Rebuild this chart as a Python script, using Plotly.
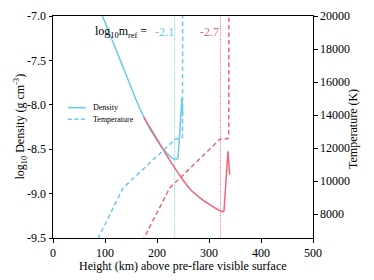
import plotly.graph_objects as go

# ---- data ----
blue_dens_h = [92, 95, 108, 120.6, 134, 147.5, 161, 174.4, 187, 199.4, 207, 214.8, 223, 230.8, 240.4]
blue_dens_v = [-6.965, -7.0, -7.185, -7.371, -7.565, -7.764, -7.96, -8.135, -8.28, -8.393, -8.46, -8.517, -8.568, -8.607, -8.607]
blue_spike_h = [240.4, 248.0, 249.5]
blue_spike_v = [-8.607, -7.925, -8.10]

red_dens_h = [174.4, 190, 205.2, 224.4, 244.4, 262.9, 282.1, 301.3, 323.8, 328.8]
red_dens_v = [-8.135, -8.29, -8.438, -8.624, -8.80, -8.945, -9.045, -9.124, -9.199, -9.202]
red_spike_h = [328.8, 336.5, 339.8]
red_spike_v = [-9.202, -8.525, -8.787]

blue_temp_h = [80, 134.6, 236.0, 247.0, 249.0, 249.3]
blue_temp_v = [6100, 9577, 12564, 12564, 12700, 21000]

red_temp_h = [165, 224.4, 321.9, 336.0, 338.0, 338.3]
red_temp_v = [5940, 9577, 12564, 12564, 12700, 21000]

mref_heights = [234, 322]
mref_labels = ["-2.1", "-2.7"]

x_ticks = [0, 100, 200, 300, 400, 500]
x_ticklabels = ["0", "100", "200", "300", "400", "500"]
y_ticks = [-7.0, -7.5, -8.0, -8.5, -9.0, -9.5]
y_ticklabels = ["-7.0", "-7.5", "-8.0", "-8.5", "-9.0", "-9.5"]
t_ticks = [8000, 10000, 12000, 14000, 16000, 18000, 20000]
t_ticklabels = ["8000", "10000", "12000", "14000", "16000", "18000", "20000"]

BLUE = "#66CCEE"
RED = "#EE6677"
FONT = "Liberation Serif, Times New Roman, serif"

fig = go.Figure()

# dotted reference lines
for h, c in zip(mref_heights, [BLUE, RED]):
    fig.add_trace(go.Scatter(x=[h, h], y=[-9.5, -7.0], mode="lines",
                             line=dict(color=c, width=1, dash="1px,1.2px"),
                             showlegend=False, hoverinfo="skip"))

# temperature (dashed) on right axis
fig.add_trace(go.Scatter(x=blue_temp_h, y=blue_temp_v, yaxis="y2", mode="lines",
                         line=dict(color=BLUE, width=1.5, dash="4.5px,3px"), showlegend=False))
fig.add_trace(go.Scatter(x=red_temp_h, y=red_temp_v, yaxis="y2", mode="lines",
                         line=dict(color=RED, width=1.5, dash="4.5px,3px"), showlegend=False))

# density (solid)
for hx, vy, c, shp in [(blue_dens_h, blue_dens_v, BLUE, "spline"),
                       (blue_spike_h, blue_spike_v, BLUE, "linear"),
                       (red_dens_h, red_dens_v, RED, "spline"),
                       (red_spike_h, red_spike_v, RED, "linear")]:
    fig.add_trace(go.Scatter(x=hx, y=vy, mode="lines",
                             line=dict(color=c, width=1.5, shape=shp, smoothing=0.8),
                             showlegend=False))

# annotations for m_ref
fig.add_annotation(x=184, y=-7.18, xref="x", yref="y", xanchor="right", yanchor="middle",
                   text="log<sub>10</sub>m<sub>ref</sub> =", showarrow=False,
                   font=dict(family=FONT, size=12, color="black"))
for h, lab, c in zip(mref_heights, mref_labels, [BLUE, RED]):
    fig.add_annotation(x=h, y=-7.18, xref="x", yref="y", xanchor="right", yanchor="middle",
                       text=lab, showarrow=False, xshift=1,
                       font=dict(family=FONT, size=12, color=c))

# manual legend
leg_items = [("Density", "solid", 0.587), ("Temperature", "4px,2.5px", 0.535)]
for name, dash, yy in leg_items:
    fig.add_shape(type="line", xref="paper", yref="paper", x0=0.057, x1=0.126, y0=yy, y1=yy,
                  line=dict(color=BLUE, width=1.5, dash=dash))
    fig.add_annotation(x=0.145, y=yy, xref="paper", yref="paper", xanchor="left", yanchor="middle",
                       text=name, showarrow=False, font=dict(family=FONT, size=8, color="black"))

# axis titles as annotations for exact placement
fig.add_annotation(x=-0.124, y=0.501, xref="paper", yref="paper", xanchor="center", yanchor="middle",
                   text="log<sub>10</sub> Density (g cm<sup>-3</sup>)", textangle=-90, showarrow=False,
                   font=dict(family=FONT, size=12, color="black"))
fig.add_annotation(x=1.153, y=0.49, xref="paper", yref="paper", xanchor="center", yanchor="middle",
                   text="Temperature (K)", textangle=-90, showarrow=False,
                   font=dict(family=FONT, size=12, color="black"))
fig.add_annotation(x=0.5, y=-0.126, xref="paper", yref="paper", xanchor="center", yanchor="middle",
                   text="Height (km) above pre-flare visible surface", showarrow=False,
                   font=dict(family=FONT, size=12, color="black"))

axis_common = dict(showgrid=False, zeroline=False, showline=True, linecolor="black", linewidth=1,
                   ticks="outside", ticklen=3.5, tickcolor="black", automargin=False,
                   tickfont=dict(family=FONT, size=12, color="black"))

# page has an 8px body margin, so margins are offset by 8px
fig.update_layout(
    width=374, height=280,
    margin=dict(l=45, r=69, t=8, b=50, autoexpand=False),
    paper_bgcolor="white", plot_bgcolor="white",
    font=dict(family=FONT, size=12, color="black"),
    xaxis=dict(range=[0, 500], tickvals=x_ticks, ticktext=x_ticklabels, mirror=True, **axis_common),
    yaxis=dict(range=[-9.5, -7.0], tickvals=y_ticks, ticktext=y_ticklabels, **axis_common),
    yaxis2=dict(range=[6550, 20000], overlaying="y", side="right",
                tickvals=t_ticks, ticktext=t_ticklabels, **axis_common),
)

fig.write_html("out.html")
